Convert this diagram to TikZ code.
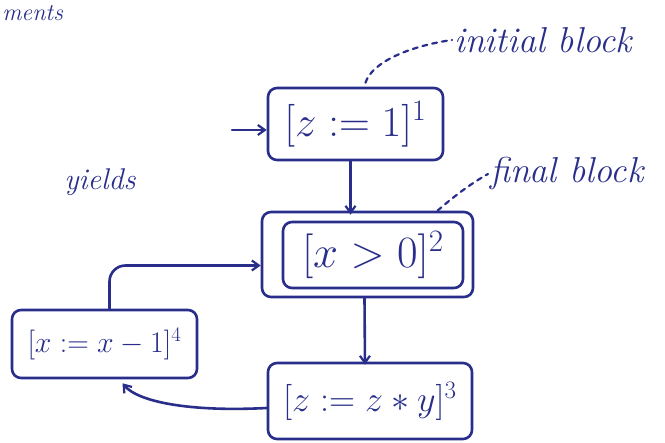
\documentclass[tikz,border=0pt]{standalone}
\usepackage{graphicx}
\usetikzlibrary{arrows.meta}
\definecolor{ink}{RGB}{40,46,138}
\begin{document}
\begin{tikzpicture}[x=1pt,y=-1pt,
  every path/.style={color=ink},
  line width=2.6pt, line cap=round, line join=round,
  blockbox/.style={draw=ink, text=ink, rounded corners=9pt, inner sep=0pt,
    font=\fontsize{25}{30}\selectfont},
  note/.style={text=ink, font=\fontsize{36}{40}\selectfont\itshape, inner sep=1pt},
  flow/.style={draw=ink, -{Straight Barb[length=7pt,width=10pt,line width=2.2pt]}},
  hint/.style={draw=ink, dashed, dash pattern=on 5pt off 5pt, line width=2.2pt}]
\useasboundingbox (0,0) rectangle (665,443);

% texts
\node[note, anchor=west, font=\fontsize{24}{28}\selectfont\itshape] (ments) at (0,13) {ments};
\node[note, anchor=center, font=\fontsize{30}{34}\selectfont\itshape] (yields) at (100,182) {yields};
\node[note, anchor=west] (lin) at (452,40) {initial block};
\node[note, anchor=west] (lfin) at (488,174) {final block};

% blocks
\node[blockbox, minimum width=175pt, minimum height=72pt] (b1) at (355.5,124) {\scalebox{1.72}{$[z:=1]^{1}$}};
\node[blockbox, minimum width=211pt, minimum height=85pt] (b2) at (367.5,254.5) {};
\node[blockbox, minimum width=180pt, minimum height=66pt] (b2i) at (373,255) {\scalebox{1.8}{$[x>0]^{2}$}};
\node[blockbox, minimum width=185pt, minimum height=68pt] (b4) at (104.5,344) {\scalebox{1.2}{$[x:=x-1]^{4}$}};
\node[blockbox, minimum width=204pt, minimum height=76pt] (b3) at (370,401) {\scalebox{1.45}{$[z:=z*y]^{3}$}};

% entry
\coordinate (entry) at (232,130);
\draw[flow] (entry) -- (entry -| b1.west);

% flows
\draw[flow] ([xshift=-5pt]b1.south) -- ([xshift=-17pt,yshift=-4pt]b2.north);
\draw[flow] ([xshift=-3pt]b2.south) -- ([xshift=-5pt,yshift=-3pt]b3.north);
\draw[flow, rounded corners=16pt] ([xshift=5pt]b4.north) |- ([yshift=-11pt]b2.west);
\draw[flow] ([yshift=-7pt]b3.west) .. controls (190,412) and (138,402) .. ([xshift=18pt,yshift=-4pt]b4.south);

% annotation links
\draw[hint] ([xshift=10pt,yshift=4pt]b1.north) .. controls (372,62) and (410,46) .. (lin.west);
\draw[hint] ([xshift=70pt]b2.north) .. controls (452,198) and (470,184) .. (lfin.west);
\end{tikzpicture}
\end{document}
